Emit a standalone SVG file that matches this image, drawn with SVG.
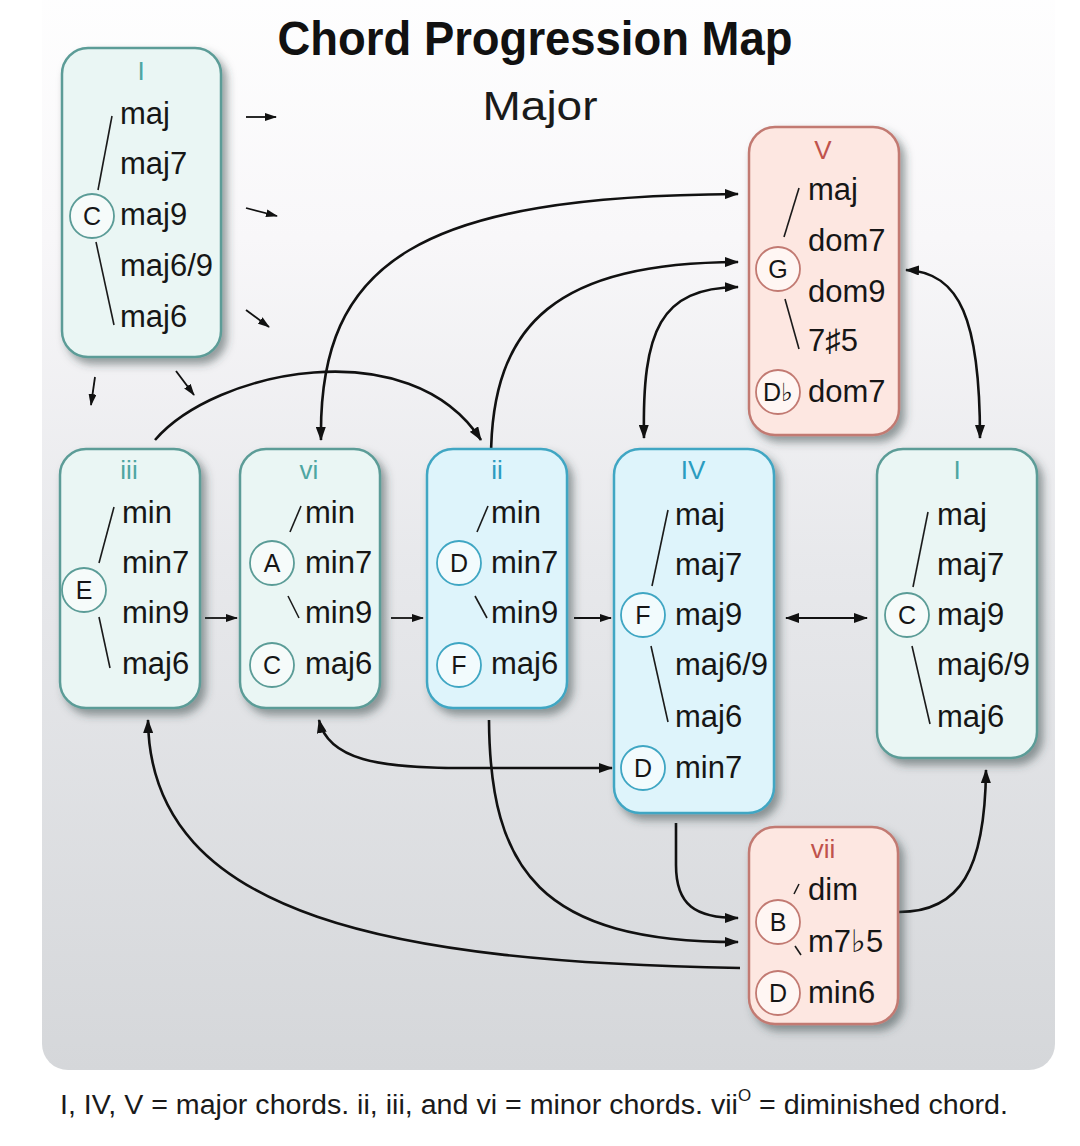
<svg xmlns="http://www.w3.org/2000/svg" width="1080" height="1146" viewBox="0 0 1080 1146">
<defs>
  <linearGradient id="bg" x1="0" y1="0" x2="0" y2="1">
    <stop offset="0" stop-color="#ffffff"/>
    <stop offset="0.25" stop-color="#f8f7f9"/>
    <stop offset="0.55" stop-color="#e7e8eb"/>
    <stop offset="1" stop-color="#d5d7da"/>
  </linearGradient>
  <filter id="sh" x="-20%" y="-20%" width="150%" height="150%">
    <feDropShadow dx="5" dy="6" stdDeviation="4.5" flood-color="#2f3f3f" flood-opacity="0.5"/>
  </filter>
  <marker id="ah" viewBox="0 0 14 10" refX="13" refY="5" markerWidth="14" markerHeight="10" markerUnits="userSpaceOnUse" orient="auto-start-reverse">
    <path d="M0,0 L14,5 L0,10 z" fill="#111"/>
  </marker>
  <marker id="as" viewBox="0 0 12 8" refX="11" refY="4" markerWidth="12" markerHeight="8" markerUnits="userSpaceOnUse" orient="auto">
    <path d="M0,0 L12,4 L0,8 z" fill="#111"/>
  </marker>
</defs>
<style>
  .box-t{fill:#eaf6f4;stroke:#5b9c97;stroke-width:2.5}
  .box-b{fill:#def4fb;stroke:#3fa6c3;stroke-width:2.5}
  .box-r{fill:#fde7e1;stroke:#c27a72;stroke-width:2.5}
  text{font-family:"Liberation Sans",Arial,Helvetica,sans-serif}
  .lbl{font-size:26px;text-anchor:middle}
  .lt{fill:#4ea6a2}
  .lb{fill:#2b9cc0}
  .lr{fill:#c0534c}
  .ch{font-size:31px;fill:#161616}
  .nt{font-size:25px;fill:#161616;text-anchor:middle}
  .cc-t{fill:#f6fbfa;stroke:#5b9c97;stroke-width:1.8}
  .cc-b{fill:#f2fbfd;stroke:#3fa6c3;stroke-width:1.8}
  .cc-r{fill:#fff6f3;stroke:#c27a72;stroke-width:1.8}
  .br{stroke:#1a1a1a;stroke-width:1.6}
  .conn{fill:none;stroke:#111;stroke-width:2.6}
  .sm{fill:none;stroke:#111;stroke-width:1.8}
</style>

<rect x="0" y="0" width="1080" height="1146" fill="#ffffff"/>
<rect x="42" y="-40" width="1013" height="1110" rx="26" fill="url(#bg)"/>

<text x="535" y="55" font-size="48" font-weight="bold" text-anchor="middle" fill="#111" textLength="515" lengthAdjust="spacingAndGlyphs">Chord Progression Map</text>
<text x="540" y="120" font-size="40" text-anchor="middle" fill="#1a1a1a" textLength="115" lengthAdjust="spacingAndGlyphs">Major</text>

<g id="connectors">
  <line class="sm" x1="246" y1="117" x2="276" y2="117" marker-end="url(#as)"/>
  <line class="sm" x1="246" y1="208" x2="277" y2="216" marker-end="url(#as)"/>
  <line class="sm" x1="246" y1="310" x2="269" y2="327" marker-end="url(#as)"/>
  <line class="sm" x1="95" y1="377" x2="91" y2="405" marker-end="url(#as)"/>
  <line class="sm" x1="176" y1="371" x2="194" y2="395" marker-end="url(#as)"/>
  <path class="conn" d="M155,440 C215,370 410,330 481,440" marker-end="url(#ah)"/>
  <path class="conn" d="M321,440 C318,260 420,196 738,194" marker-start="url(#ah)" marker-end="url(#ah)"/>
  <path class="conn" d="M491,462 C490,320 560,263 738,262" marker-end="url(#ah)"/>
  <path class="conn" d="M644,438 C642,330 660,288 738,287" marker-start="url(#ah)" marker-end="url(#ah)"/>
  <path class="conn" d="M906,270 C960,272 980,320 980,438" marker-start="url(#ah)" marker-end="url(#ah)"/>
  <line class="sm" x1="205" y1="618" x2="237" y2="618" marker-end="url(#as)"/>
  <line class="sm" x1="391" y1="618" x2="423" y2="618" marker-end="url(#as)"/>
  <line class="sm" x1="574" y1="618" x2="611" y2="618" marker-end="url(#as)"/>
  <line class="sm" x1="786" y1="618" x2="867" y2="618" marker-start="url(#ah)" marker-end="url(#ah)" style="stroke-width:2"/>
  <path class="conn" d="M319,720 C328,760 380,768 460,768 L612,768" marker-start="url(#ah)" marker-end="url(#ah)"/>
  <path class="conn" d="M489,720 C490,870 540,942 738,942" marker-end="url(#ah)"/>
  <path class="conn" d="M740,968 C400,962 150,920 148,720" marker-end="url(#ah)"/>
  <path class="conn" d="M676,823 L676,865 C676,905 695,918 738,918" marker-end="url(#ah)"/>
  <path class="conn" d="M899,912 C960,912 985,870 986,770" marker-end="url(#ah)"/>
</g>

<g id="node-I-top">
  <rect class="box-t" x="62" y="48" width="159" height="309" rx="26" filter="url(#sh)"/>
  <text class="lbl lt" x="141" y="80">I</text>
  <line class="br" x1="112" y1="116" x2="98" y2="190"/>
  <line class="br" x1="96" y1="242" x2="114" y2="325"/>
  <circle class="cc-t" cx="92" cy="216" r="22"/>
  <text class="nt" x="92" y="225">C</text>
  <text class="ch" x="120" y="124">maj</text>
  <text class="ch" x="120" y="174">maj7</text>
  <text class="ch" x="120" y="225">maj9</text>
  <text class="ch" x="120" y="276">maj6/9</text>
  <text class="ch" x="120" y="327">maj6</text>
</g>

<g id="node-V">
  <rect class="box-r" x="749" y="127" width="150" height="308" rx="26" filter="url(#sh)"/>
  <text class="lbl lr" x="823" y="159">V</text>
  <line class="br" x1="799" y1="188" x2="784" y2="237"/>
  <line class="br" x1="785" y1="299" x2="799" y2="349"/>
  <circle class="cc-r" cx="778" cy="269" r="22"/>
  <text class="nt" x="778" y="278">G</text>
  <circle class="cc-r" cx="778" cy="392" r="22"/>
  <text class="nt" x="778" y="401">D♭</text>
  <text class="ch" x="808" y="200">maj</text>
  <text class="ch" x="808" y="251">dom7</text>
  <text class="ch" x="808" y="302">dom9</text>
  <text class="ch" x="808" y="351">7♯5</text>
  <text class="ch" x="808" y="402">dom7</text>
</g>

<g id="node-iii">
  <rect class="box-t" x="60" y="449" width="140" height="259" rx="26" filter="url(#sh)"/>
  <text class="lbl lt" x="129" y="479">iii</text>
  <line class="br" x1="114" y1="507" x2="99" y2="563"/>
  <line class="br" x1="99" y1="617" x2="110" y2="668"/>
  <circle class="cc-t" cx="84" cy="590" r="22"/>
  <text class="nt" x="84" y="599">E</text>
  <text class="ch" x="122" y="523">min</text>
  <text class="ch" x="122" y="573">min7</text>
  <text class="ch" x="122" y="623">min9</text>
  <text class="ch" x="122" y="674">maj6</text>
</g>

<g id="node-vi">
  <rect class="box-t" x="240" y="449" width="140" height="259" rx="26" filter="url(#sh)"/>
  <text class="lbl lt" x="309" y="479">vi</text>
  <line class="br" x1="301" y1="506" x2="290" y2="532"/>
  <line class="br" x1="288" y1="596" x2="299" y2="618"/>
  <circle class="cc-t" cx="272" cy="563" r="22"/>
  <text class="nt" x="272" y="572">A</text>
  <circle class="cc-t" cx="272" cy="665" r="22"/>
  <text class="nt" x="272" y="674">C</text>
  <text class="ch" x="305" y="523">min</text>
  <text class="ch" x="305" y="573">min7</text>
  <text class="ch" x="305" y="623">min9</text>
  <text class="ch" x="305" y="674">maj6</text>
</g>

<g id="node-ii">
  <rect class="box-b" x="427" y="449" width="140" height="259" rx="26" filter="url(#sh)"/>
  <text class="lbl lb" x="497" y="479">ii</text>
  <line class="br" x1="488" y1="506" x2="477" y2="532"/>
  <line class="br" x1="475" y1="596" x2="487" y2="618"/>
  <circle class="cc-b" cx="459" cy="563" r="22"/>
  <text class="nt" x="459" y="572">D</text>
  <circle class="cc-b" cx="459" cy="665" r="22"/>
  <text class="nt" x="459" y="674">F</text>
  <text class="ch" x="491" y="523">min</text>
  <text class="ch" x="491" y="573">min7</text>
  <text class="ch" x="491" y="623">min9</text>
  <text class="ch" x="491" y="674">maj6</text>
</g>

<g id="node-IV">
  <rect class="box-b" x="614" y="449" width="160" height="364" rx="26" filter="url(#sh)"/>
  <text class="lbl lb" x="693" y="479">IV</text>
  <line class="br" x1="668" y1="510" x2="652" y2="586"/>
  <line class="br" x1="651" y1="646" x2="668" y2="722"/>
  <circle class="cc-b" cx="643" cy="615" r="22"/>
  <text class="nt" x="643" y="624">F</text>
  <circle class="cc-b" cx="643" cy="768" r="22"/>
  <text class="nt" x="643" y="777">D</text>
  <text class="ch" x="675" y="525">maj</text>
  <text class="ch" x="675" y="575">maj7</text>
  <text class="ch" x="675" y="625">maj9</text>
  <text class="ch" x="675" y="675">maj6/9</text>
  <text class="ch" x="675" y="727">maj6</text>
  <text class="ch" x="675" y="778">min7</text>
</g>

<g id="node-I-right">
  <rect class="box-t" x="877" y="449" width="160" height="309" rx="26" filter="url(#sh)"/>
  <text class="lbl lt" x="957" y="479">I</text>
  <line class="br" x1="928" y1="512" x2="913" y2="587"/>
  <line class="br" x1="912" y1="646" x2="930" y2="724"/>
  <circle class="cc-t" cx="907" cy="615" r="22"/>
  <text class="nt" x="907" y="624">C</text>
  <text class="ch" x="937" y="525">maj</text>
  <text class="ch" x="937" y="575">maj7</text>
  <text class="ch" x="937" y="625">maj9</text>
  <text class="ch" x="937" y="675">maj6/9</text>
  <text class="ch" x="937" y="727">maj6</text>
</g>

<g id="node-vii">
  <rect class="box-r" x="749" y="827" width="149" height="197" rx="26" filter="url(#sh)"/>
  <text class="lbl lr" x="823" y="858">vii</text>
  <line class="br" x1="794" y1="894" x2="799" y2="884"/>
  <line class="br" x1="795" y1="946" x2="801" y2="955"/>
  <circle class="cc-r" cx="778" cy="922" r="22"/>
  <text class="nt" x="778" y="931">B</text>
  <circle class="cc-r" cx="778" cy="993" r="22"/>
  <text class="nt" x="778" y="1002">D</text>
  <text class="ch" x="808" y="900">dim</text>
  <text class="ch" x="808" y="952">m7♭5</text>
  <text class="ch" x="808" y="1003">min6</text>
</g>

<text x="60" y="1114" font-size="27" fill="#1a1a1a" textLength="948" lengthAdjust="spacingAndGlyphs">I, IV, V = major chords. ii, iii, and vi = minor chords. vii<tspan font-size="16" dy="-13">O</tspan><tspan dy="13"> = diminished chord.</tspan></text>
</svg>
